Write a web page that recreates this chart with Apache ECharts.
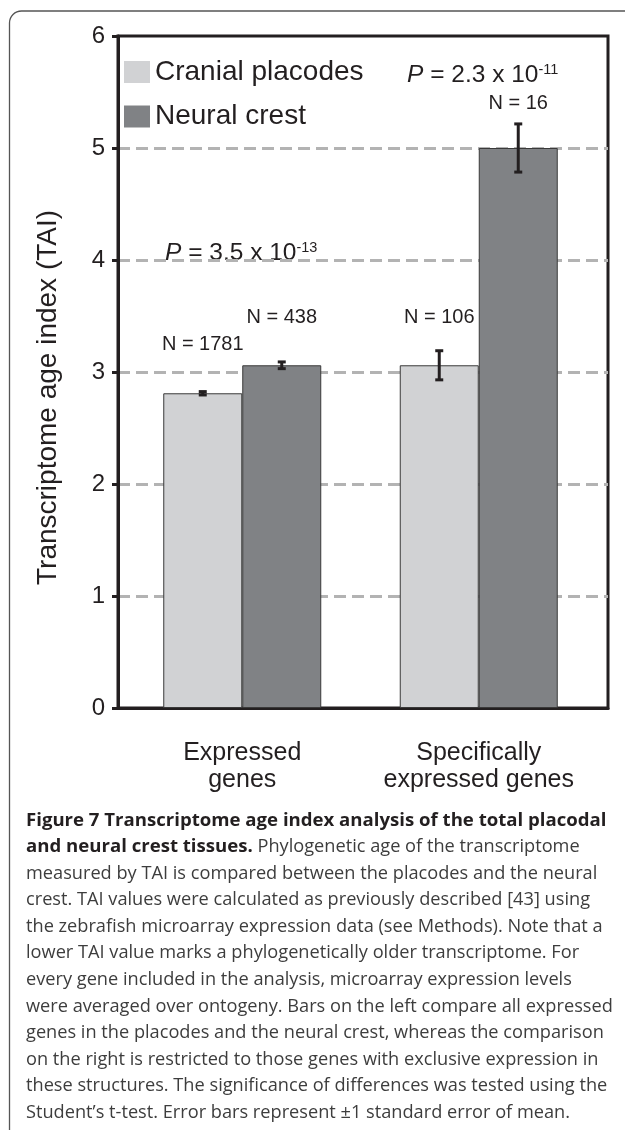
<!DOCTYPE html>
<html><head><meta charset="utf-8">
<script src="https://cdn.jsdelivr.net/npm/echarts@6/dist/echarts.min.js"></script>
<style>html,body{margin:0;padding:0;background:#fff}#c{width:625px;height:1130px}</style>
</head><body><div id="c"></div>
<script>
// ---- data ----
const categories = ['Expressed\ngenes', 'Specifically\nexpressed genes'];
const seriesNames = ['Cranial placodes', 'Neural crest'];
const placodesTAI = [2.81, 3.06];
const neuralCrestTAI = [3.06, 5.00];
const placodesSE = [0.015, 0.13];
const neuralCrestSE = [0.03, 0.215];
const placodesN = [1781, 106];
const neuralCrestN = [438, 16];
const pMantissa = ['3.5', '2.3'];
const pExponent = ['-13', '-11'];
const yTickMin = 0, yTickMax = 6, yTickStep = 1;
const yAxisTitle = 'Transcriptome age index (TAI)';
const captionLines = [
  [['b', 'Figure 7 Transcriptome age index analysis of the total placodal']],
  [['b', 'and neural crest tissues.'], ['r', ' Phylogenetic age of the transcriptome']],
  [['r', 'measured by TAI is compared between the placodes and the neural']],
  [['r', 'crest. TAI values were calculated as previously described [43] using']],
  [['r', 'the zebrafish microarray expression data (see Methods). Note that a']],
  [['r', 'lower TAI value marks a phylogenetically older transcriptome. For']],
  [['r', 'every gene included in the analysis, microarray expression levels']],
  [['r', 'were averaged over ontogeny. Bars on the left compare all expressed']],
  [['r', 'genes in the placodes and the neural crest, whereas the comparison']],
  [['r', 'on the right is restricted to those genes with exclusive expression in']],
  [['r', 'these structures. The significance of differences was tested using the']],
  [['r', 'Student\u2019s t-test. Error bars represent \u00b11 standard error of mean.']]
];

// ---- styles ----
const INK = '#231f20';
const FONT = 'Liberation Sans, Arial, sans-serif';
const colors = ['#d1d2d4', '#808285'];
const BAR_W = 79;
const nLift = [[47, 33], [44.5, 20.5]]; // px above error-bar top, per series/category

const chart = echarts.init(document.getElementById('c'), null, {renderer: 'canvas'});

function errSeries(si, means, ses, ns) {
  return {
    type: 'custom', name: 'err' + si, xAxisIndex: 1, yAxisIndex: 1, z: 5,
    data: means.map((v, i) => [i, v, ses[i], ns[i]]),
    encode: {x: 0, y: 1},
    renderItem: function (params, api) {
      const cat = api.value(0), m = api.value(1), se = api.value(2), n = api.value(3);
      const base = api.coord([cat, m]);
      const cx = base[0] + (si === 0 ? -BAR_W / 2 : BAR_W / 2);
      const yt = api.coord([cat, m + se])[1];
      const yb = api.coord([cat, m - se])[1];
      const hw = 4;
      const ls = {stroke: INK, lineWidth: 3};
      return {
        type: 'group',
        children: [
          {type: 'line', shape: {x1: cx, y1: yt, x2: cx, y2: yb}, style: ls},
          {type: 'line', shape: {x1: cx - hw, y1: yt, x2: cx + hw, y2: yt}, style: ls},
          {type: 'line', shape: {x1: cx - hw, y1: yb, x2: cx + hw, y2: yb}, style: ls},
          {type: 'text', x: cx, y: yt - nLift[si][cat],
           style: {text: 'N = ' + n, fontSize: 20, fontFamily: FONT, fill: INK,
                   align: 'center', verticalAlign: 'middle'}}
        ]
      };
    }
  };
}

function pText(k) {
  return '{i|P}{m| = ' + pMantissa[k] + ' x 10}{s|' + pExponent[k] + '}';
}
const pRich = {
  i: {fontStyle: 'italic', fontSize: 24.5, fontFamily: FONT, fill: INK, lineHeight: 25},
  m: {fontSize: 24.5, fontFamily: FONT, fill: INK, lineHeight: 25},
  s: {fontSize: 14.5, fontFamily: FONT, fill: INK, lineHeight: 13, verticalAlign: 'top'}
};

const captionText = captionLines.map(line => line.map(([k, t]) => '{' + k + '|' + t + '}').join('')).join('\n');

const option = {
  animation: false,
  backgroundColor: '#fff',
  grid: [
    {left: 118, width: 490, top: 36, height: 672, show: true, borderColor: INK, borderWidth: 3, backgroundColor: 'transparent'},
    {left: 124, width: 473, top: 36, height: 672}
  ],
  legend: {
    orient: 'vertical', left: 124, top: 58, padding: 0,
    itemWidth: 26, itemHeight: 22, itemGap: 16.5,
    icon: 'rect',
    data: seriesNames,
    itemStyle: {borderWidth: 0},
    textStyle: {fontSize: 28, fontFamily: FONT, color: INK, lineHeight: 28}
  },
  xAxis: [
    {gridIndex: 0, type: 'value', min: 0, max: 1, axisLabel: {show: false}, axisTick: {show: false},
     splitLine: {show: false}, axisLine: {show: true, lineStyle: {color: INK, width: 3}}},
    {gridIndex: 1, type: 'category', data: categories, axisLine: {show: false}, axisTick: {show: false},
     axisLabel: {interval: 0, fontSize: 25, lineHeight: 27, margin: 32, color: INK, fontFamily: FONT}}
  ],
  yAxis: [
    {gridIndex: 0, type: 'value', min: yTickMin, max: yTickMax, interval: yTickStep,
     name: yAxisTitle, nameLocation: 'middle', nameGap: 56, nameRotate: 90,
     nameTextStyle: {fontSize: 28, fontFamily: FONT, color: INK, padding: [0, 51, 0, 0]},
     axisLine: {show: true, lineStyle: {color: INK, width: 3}},
     axisTick: {show: true, length: 6, lineStyle: {color: INK, width: 3}},
     axisLabel: {fontSize: 24, margin: 13, color: INK, fontFamily: FONT},
     splitLine: {show: true, showMinLine: false, showMaxLine: false,
                 lineStyle: {color: '#b3b3b3', width: 3, type: [12, 6]}}},
    {gridIndex: 1, type: 'value', min: yTickMin, max: yTickMax, show: false}
  ],
  series: [
    {type: 'bar', name: seriesNames[0], xAxisIndex: 1, yAxisIndex: 1, data: placodesTAI,
     barWidth: BAR_W, barGap: '0%', itemStyle: {color: colors[0], borderColor: '#3a3a3a', borderWidth: 1}},
    {type: 'bar', name: seriesNames[1], xAxisIndex: 1, yAxisIndex: 1, data: neuralCrestTAI,
     barWidth: BAR_W, barGap: '0%', itemStyle: {color: colors[1], borderColor: '#3a3a3a', borderWidth: 1}},
    errSeries(0, placodesTAI, placodesSE, placodesN),
    errSeries(1, neuralCrestTAI, neuralCrestSE, neuralCrestN)
  ],
  graphic: [
    {type: 'rect', z: -10, shape: {x: 9.5, y: 11, width: 800, height: 1400, r: 12},
     style: {fill: 'none', stroke: '#555', lineWidth: 1.3}},
    {type: 'text', x: 165, y: 253, style: {text: pText(0), rich: pRich, fontSize: 24.5, fontFamily: FONT, fill: INK, verticalAlign: 'middle'}},
    {type: 'text', x: 407, y: 75, style: {text: pText(1), rich: pRich, fontSize: 24.5, fontFamily: FONT, fill: INK, verticalAlign: 'middle'}},
    {type: 'text', x: 26, y: 807, style: {
      text: captionText, verticalAlign: 'top', align: 'left',
      fontSize: 18.2, fontFamily: 'Open Sans', lineHeight: 26.6,
      rich: {
        b: {fontFamily: 'Open Sans', fontWeight: 'bold', fontSize: 18.6, lineHeight: 26.6, fill: INK},
        r: {fontFamily: 'Open Sans', fontWeight: 'normal', fontSize: 18.2, lineHeight: 26.6, fill: '#3d3d3d'}
      }}}
  ]
};
chart.setOption(option);
</script></body></html>
